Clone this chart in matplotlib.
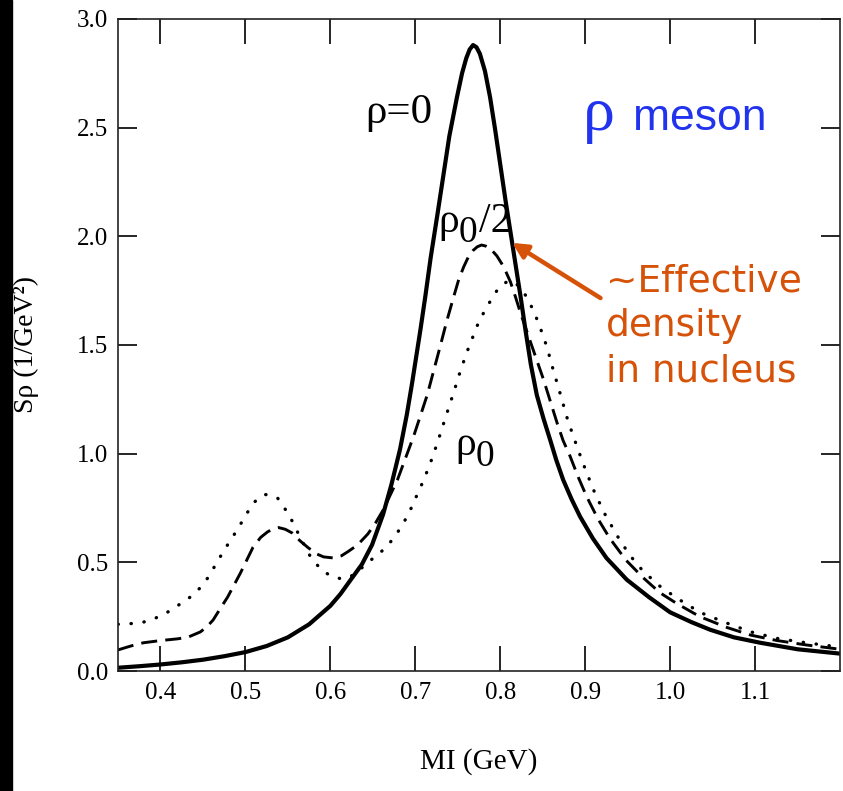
import numpy as np
import matplotlib
matplotlib.use("Agg")
from matplotlib import pyplot as plt
from matplotlib.patches import Rectangle

# rho meson spectral function at three densities

# rho = 0 (vacuum)
x_vac = [0.35, 0.375, 0.40, 0.425, 0.45, 0.475, 0.50, 0.525, 0.55, 0.575,
         0.60, 0.612, 0.624, 0.637, 0.649, 0.662, 0.672, 0.682, 0.690, 0.696,
         0.706, 0.712, 0.718, 0.726, 0.733, 0.740, 0.749, 0.755, 0.760, 0.764,
         0.768, 0.772, 0.776, 0.782, 0.788, 0.794, 0.800, 0.806, 0.812, 0.818,
         0.824, 0.830, 0.836, 0.843, 0.851, 0.859, 0.866, 0.874, 0.884, 0.894,
         0.909, 0.925, 0.949, 0.975, 1.000, 1.025, 1.047, 1.075, 1.106, 1.150,
         1.200]
y_vac = [0.015, 0.022, 0.030, 0.040, 0.052, 0.068, 0.087, 0.115, 0.155, 0.215,
         0.30, 0.355, 0.42, 0.49, 0.58, 0.72, 0.86, 1.02, 1.18, 1.32,
         1.57, 1.73, 1.90, 2.10, 2.28, 2.46, 2.64, 2.75, 2.82, 2.86,
         2.88, 2.87, 2.84, 2.76, 2.64, 2.49, 2.33, 2.17, 2.02, 1.87,
         1.72, 1.56, 1.41, 1.27, 1.16, 1.06, 0.97, 0.88, 0.79, 0.71,
         0.61, 0.52, 0.42, 0.34, 0.27, 0.225, 0.19, 0.155, 0.13, 0.10,
         0.08]

# rho0/2
x_half = [0.35, 0.365, 0.38, 0.40, 0.42, 0.432, 0.447, 0.455, 0.462, 0.47,
          0.479, 0.494, 0.509, 0.518, 0.526, 0.533, 0.539, 0.547, 0.555, 0.564,
          0.573, 0.583, 0.592, 0.604, 0.613, 0.621, 0.632, 0.644, 0.653, 0.662,
          0.679, 0.698, 0.714, 0.729, 0.737, 0.745, 0.751, 0.757, 0.763, 0.768,
          0.773, 0.778, 0.783, 0.788, 0.796, 0.804, 0.812, 0.818, 0.824, 0.835,
          0.843, 0.851, 0.859, 0.867, 0.874, 0.882, 0.892, 0.902, 0.915, 0.929,
          0.948, 0.968, 0.988, 1.008, 1.035, 1.067, 1.095, 1.126, 1.160, 1.200]
y_half = [0.097, 0.115, 0.13, 0.14, 0.148, 0.155, 0.18, 0.205, 0.235, 0.285,
          0.34, 0.45, 0.57, 0.615, 0.64, 0.655, 0.66, 0.652, 0.635, 0.60,
          0.57, 0.54, 0.525, 0.52, 0.53, 0.55, 0.58, 0.63, 0.68, 0.74,
          0.88, 1.08, 1.27, 1.49, 1.61, 1.72, 1.80, 1.86, 1.91, 1.935,
          1.952, 1.96, 1.955, 1.945, 1.91, 1.86, 1.79, 1.72, 1.645, 1.52,
          1.43, 1.34, 1.24, 1.14, 1.06, 0.99, 0.89, 0.80, 0.70, 0.61,
          0.51, 0.43, 0.36, 0.31, 0.25, 0.20, 0.165, 0.14, 0.12, 0.10]

# rho0 (nuclear matter density)
x_nuc = [0.35, 0.365, 0.38, 0.395, 0.408, 0.42, 0.435, 0.446, 0.456, 0.465,
         0.474, 0.483, 0.492, 0.50, 0.509, 0.515, 0.522, 0.530, 0.538, 0.546,
         0.555, 0.565, 0.576, 0.584, 0.591, 0.602, 0.612, 0.622, 0.633, 0.644,
         0.656, 0.667, 0.677, 0.686, 0.694, 0.702, 0.710, 0.718, 0.726, 0.735,
         0.745, 0.753, 0.761, 0.767, 0.773, 0.780, 0.788, 0.796, 0.803, 0.810,
         0.816, 0.822, 0.827, 0.832, 0.840, 0.847, 0.855, 0.862, 0.871, 0.879,
         0.886, 0.897, 0.909, 0.922, 0.938, 0.952, 0.968, 0.988, 1.008, 1.035,
         1.067, 1.095, 1.126, 1.160, 1.200]
y_nuc = [0.215, 0.218, 0.225, 0.245, 0.27, 0.30, 0.34, 0.38, 0.43, 0.49,
         0.55, 0.605, 0.66, 0.715, 0.77, 0.795, 0.812, 0.81, 0.795, 0.75,
         0.69, 0.61, 0.53, 0.49, 0.46, 0.435, 0.425, 0.43, 0.46, 0.50,
         0.535, 0.575, 0.625, 0.68, 0.74, 0.81, 0.88, 0.96, 1.05, 1.16,
         1.28, 1.38, 1.47, 1.53, 1.59, 1.645, 1.70, 1.75, 1.78, 1.795,
         1.79, 1.77, 1.745, 1.715, 1.65, 1.58, 1.49, 1.39, 1.27, 1.16,
         1.08, 0.96, 0.84, 0.73, 0.62, 0.535, 0.46, 0.39, 0.335, 0.27,
         0.22, 0.18, 0.15, 0.13, 0.11]

xticks = [0.4, 0.5, 0.6, 0.7, 0.8, 0.9, 1.0, 1.1]
yticks = [0.0, 0.5, 1.0, 1.5, 2.0, 2.5, 3.0]

blue = '#2233ee'
orange = '#d65208'

plt.rcParams['font.family'] = ['Liberation Serif', 'DejaVu Serif']

fig = plt.figure(figsize=(8.43, 7.91), dpi=100)
ax = fig.add_axes([0.140, 0.1517, 0.8565, 0.8243])

# black strip down the left edge of the slide
fig.add_artist(Rectangle((0, 0), 12 / 843., 1, transform=fig.transFigure,
                         color='black', zorder=10))

ax.plot(x_vac, y_vac, color='black', lw=3.0, solid_joinstyle='round')
ax.plot(x_half, y_half, color='black', lw=2.1, ls=(0, (5.5, 2.8)))
ax.plot(x_nuc, y_nuc, color='black', lw=2.4, ls=(0, (0.1, 3.8)),
        dash_capstyle='round')

ax.set_xlim(0.35, 1.2)
ax.set_ylim(0.0, 3.0)
ax.set_xticks(xticks)
ax.set_xticklabels(['%.1f' % v for v in xticks])
ax.set_yticks(yticks)
ax.set_yticklabels(['%.1f' % v for v in yticks])
ax.tick_params(direction='in', top=True, right=True, width=1.2, labelsize=18)
ax.tick_params(axis='x', length=18, pad=8)
ax.tick_params(axis='y', length=14, pad=7)
for s in ax.spines.values():
    s.set_linewidth(1.2)
    s.set_color('#222222')

ax.set_xlabel('MI (GeV)', fontsize=21)
ax.xaxis.set_label_coords(0.5, -0.118)
ax.set_ylabel('S\u03c1 (1/GeV\u00b2)', fontsize=20)
ax.yaxis.set_label_coords(-0.11, 0.5)

# curve labels
ax.text(0.641, 2.52, '\u03c1=0', fontsize=31, va='baseline')
ax.text(0.727, 2.02, '\u03c1', fontsize=30, va='baseline')
ax.annotate('0', (0.727, 2.02), xytext=(15, -7), textcoords='offset points',
            fontsize=27, va='baseline')
ax.annotate('/2', (0.727, 2.02), xytext=(29, 0), textcoords='offset points',
            fontsize=30, va='baseline')
ax.text(0.747, 0.995, '\u03c1', fontsize=30, va='baseline')
ax.annotate('0', (0.747, 0.995), xytext=(15, -8), textcoords='offset points',
            fontsize=27, va='baseline')

ax.text(0.897, 2.49, '\u03c1', fontsize=46, color=blue, va='baseline')
ax.text(0.956, 2.49, 'meson', fontsize=32, color=blue, va='baseline',
        family='Liberation Sans')

ax.annotate('', xy=(0.814, 1.97), xytext=(0.918, 1.716),
            arrowprops=dict(arrowstyle='-|>,head_length=0.9,head_width=0.45',
                            color=orange, lw=3.2, shrinkA=0, shrinkB=0))
ax.text(0.924, 1.875, '~Effective\ndensity\nin nucleus', fontsize=27,
        color=orange, va='top', ha='left', linespacing=1.32,
        family='DejaVu Sans')

fig.savefig('out.png', dpi=100)
